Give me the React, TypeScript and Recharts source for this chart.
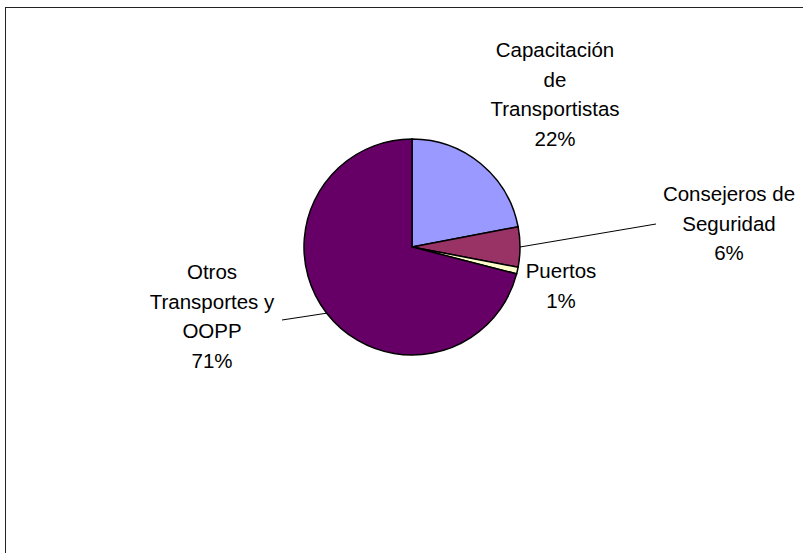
import React from "react";
import { PieChart, Pie, Cell } from "recharts";

const categories = ["Capacitación de Transportistas", "Consejeros de Seguridad", "Puertos", "Otros Transportes y OOPP"];
const values = [22, 6, 1, 71];
const percentLabels = ["22%", "6%", "1%", "71%"];
const labelLines = [
  ["Capacitación", "de", "Transportistas"],
  ["Consejeros de", "Seguridad"],
  ["Puertos"],
  ["Otros", "Transportes y", "OOPP"],
];
const colors = ["#9999FF", "#993366", "#FFFFCC", "#660066"];

const data = categories.map((name, i) => ({ name, value: values[i] }));

// label block layout relative to pie centre (first-line centre y), plus leader-line end
const LAYOUT = [
  { dx: 143, dy: -198, leader: null as null | [number, number] },
  { dx: 317, dy: -54, leader: [244, -23] as [number, number] },
  { dx: 149, dy: 23, leader: null },
  { dx: -200, dy: 24, leader: [-130, 73] as [number, number] },
];

const FONT = "'Liberation Sans', Arial, sans-serif";
const LINE_H = 29.5;

const renderLabel = (props: any) => {
  const { cx, cy, midAngle, outerRadius, index } = props;
  const lay = LAYOUT[index];
  const lines = [...labelLines[index], percentLabels[index]];
  const x = cx + lay.dx;
  const y0 = cy + lay.dy;
  const RAD = Math.PI / 180;
  const sx = cx + outerRadius * Math.cos(-midAngle * RAD);
  const sy = cy + outerRadius * Math.sin(-midAngle * RAD);
  return (
    <g key={`lbl-${index}`}>
      {lay.leader && (
        <line x1={sx} y1={sy} x2={cx + lay.leader[0]} y2={cy + lay.leader[1]} stroke="#000" strokeWidth={1} />
      )}
      <text x={x} y={y0} textAnchor="middle" dominantBaseline="central" fontFamily={FONT} fontSize={20.5} fill="#000">
        {lines.map((l, i) => (
          <tspan key={i} x={x} y={y0 + i * LINE_H} dominantBaseline="central">
            {l}
          </tspan>
        ))}
      </text>
    </g>
  );
};

export default function App() {
  return (
    <div style={{ position: "absolute", left: 0, top: 0, width: 803, height: 553, overflow: "hidden", background: "#fff" }}>
      <div
        style={{
          position: "absolute",
          left: 5,
          top: 7,
          width: 900,
          height: 700,
          border: "1.5px solid #222",
          boxSizing: "border-box",
        }}
      />
      <div style={{ position: "absolute", left: 0, top: 0 }}>
        <PieChart width={803} height={553} margin={{ top: 0, right: 0, bottom: 0, left: 0 }}>
          <Pie
            data={data}
            dataKey="value"
            nameKey="name"
            cx={412}
            cy={247}
            outerRadius={108}
            startAngle={90}
            endAngle={-270}
            stroke="#000"
            strokeWidth={1.5}
            label={renderLabel}
            labelLine={false}
            isAnimationActive={false}
          >
            {data.map((d, i) => (
              <Cell key={d.name} fill={colors[i]} />
            ))}
          </Pie>
        </PieChart>
      </div>
    </div>
  );
}
